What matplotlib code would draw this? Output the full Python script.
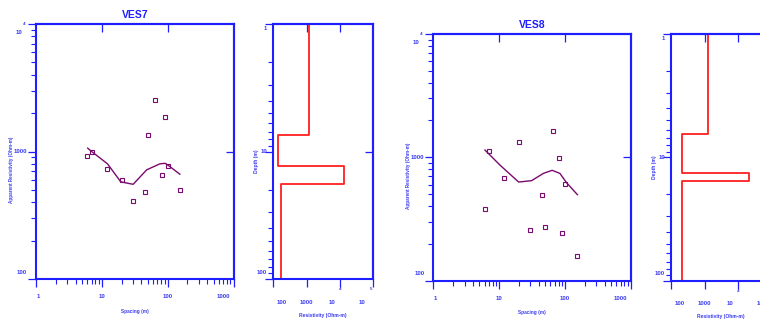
import numpy as np
import matplotlib
matplotlib.use("Agg")
import matplotlib.pyplot as plt
from matplotlib.ticker import NullLocator, NullFormatter, LogLocator

plt.rcParams['font.family'] = ['Liberation Sans Narrow', 'Liberation Sans', 'DejaVu Sans']

# VES7 field data and fitted curve
ves7_ab = [6.0, 7.0, 12, 20, 30, 45, 50, 65, 81, 90, 100, 152]
ves7_rho = [918, 1000, 731, 599, 412, 482, 1343, 2547, 652, 1850, 771, 500]
ves7_fit_ab = [6.1, 7.0, 12.2, 19.4, 29.9, 48, 76, 92, 108, 153]
ves7_fit_rho = [1062, 1000, 800, 578, 553, 718, 800, 808, 762, 664]
ves7_layer_rho = [1150, 135, 13200, 166]
ves7_layer_top = [7.4, 12.9, 18.0]

# VES8 field data and fitted curve
ves8_ab = [6.0, 7.0, 12, 20, 30, 45, 50, 66, 81, 91, 101, 155]
ves8_rho = [383, 1125, 680, 1340, 259, 495, 272, 1644, 988, 245, 608, 158]
ves8_fit_ab = [6.1, 10.3, 19.8, 31.2, 47, 64, 84, 106, 155]
ves8_fit_rho = [1146, 866, 631, 647, 741, 785, 741, 623, 498]
ves8_layer_rho = [1275, 215, 21500, 215]
ves8_layer_top = [6.5, 13.4, 15.5]

blue = '#1e1eff'
tblue = '#3c3cf0'
purple = '#7a0a6e'
red = '#ff2020'

W, H = 760, 320
fig = plt.figure(figsize=(W / 100, H / 100), dpi=100)


def rect(l, r, t, b):
    return [l / W, (H - b) / H, (r - l) / W, (b - t) / H]


def ftext(x, y, s, **kw):
    kw.setdefault('color', tblue)
    kw.setdefault('ha', 'center')
    kw.setdefault('va', 'center')
    fig.text(x / W, (H - y) / H, s, **kw)


def frame(ax, top_ticks, right_ticks):
    for sp in ax.spines.values():
        sp.set_color(blue)
        sp.set_linewidth(1.5)
    ax.tick_params(which='major', direction='out', length=6, width=0.9, color=blue)
    ax.tick_params(which='minor', direction='out', length=3.5, width=0.8, color=blue)
    ax.xaxis.set_minor_locator(LogLocator(base=10, subs=np.arange(2, 10)))
    ax.yaxis.set_minor_locator(LogLocator(base=10, subs=np.arange(2, 10)))
    ax.xaxis.set_minor_formatter(NullFormatter())
    ax.yaxis.set_minor_formatter(NullFormatter())
    ax.set_yticklabels([])
    ax.set_xticklabels([])
    sx = ax.secondary_xaxis('top')
    sx.set_xticks(top_ticks)
    sx.xaxis.set_minor_locator(NullLocator())
    sx.tick_params(direction='in', length=6, width=0.9, color=blue, labeltop=False)
    sx.spines['top'].set_color(blue)
    sx.spines['top'].set_linewidth(1.5)
    sy = ax.secondary_yaxis('right')
    sy.set_yticks(right_ticks)
    sy.yaxis.set_minor_locator(NullLocator())
    sy.tick_params(direction='in', length=6, width=0.9, color=blue, labelright=False)
    sy.spines['right'].set_color(blue)
    sy.spines['right'].set_linewidth(1.5)


def sounding(l, r, t, b, title, ab, rho, fit_ab, fit_rho):
    ax = fig.add_axes(rect(l, r, t, b))
    ax.set_xscale('log')
    ax.set_yscale('log')
    ax.set_xlim(1, 1000)
    ax.set_ylim(100, 10000)
    ax.set_xticks([1, 10, 100, 1000])
    ax.set_yticks([100, 1000, 10000])
    frame(ax, [10, 100], [1000])
    ax.plot(fit_ab, fit_rho, color=purple, lw=1.0)
    ax.plot(ab, rho, 's', mfc='none', mec=purple, ms=3, mew=0.8, ls='none')
    lab = dict(color=tblue, fontsize=4.4, fontweight='bold')
    for v, s, dx in [(1, '1', 2), (10, '10', 0), (100, '100', 0), (1000, '1000', -10)]:
        ftext(l + (r - l) * np.log10(v) / 3 + dx, b + 18, s, **lab)
    ftext(l - 9, b - 7, '100', ha='right', **lab)
    ftext(l - 9, (t + b) / 2, '1000', ha='right', **lab)
    ftext(l - 14, t + 8, '10', ha='right', **lab)
    ftext(l - 13, t, '4', ha='left', color=tblue, fontsize=3.2, fontweight='bold')
    ftext(l - 24.5, (t + b) / 2 + 18, 'Apparent Resistivity (Ohm-m)', rotation=90,
          fontsize=3.3, fontweight='bold')
    ftext((l + r) / 2, b + 32, 'Spacing (m)', fontsize=3.4, fontweight='bold')
    ftext((l + r) / 2, t - 9, title, fontsize=7.5, fontweight='bold', color=blue)
    return ax


def model(l, r, t, b, layer_rho, layer_top):
    ax = fig.add_axes(rect(l, r, t, b))
    ax.set_xscale('log')
    ax.set_yscale('log')
    ax.set_xlim(100, 1e5)
    ax.set_ylim(100, 1)
    ax.set_xticks([100, 1000, 1e4, 1e5])
    ax.set_yticks([1, 10, 100])
    frame(ax, [1000, 1e4], [10])
    tops = [1] + list(layer_top)
    bots = list(layer_top) + [100]
    xs, ys = [], []
    for rr, d0, d1 in zip(layer_rho, tops, bots):
        xs += [rr, rr]
        ys += [d0, d1]
    ax.plot(xs, ys, color=red, lw=1.3)
    lab = dict(color=tblue, fontsize=4.3, fontweight='bold')
    dec = (r - l) / 3
    ftext(l + 8, b + 23, '100', **lab)
    ftext(l + dec, b + 23, '1000', **lab)
    ftext(l + 2 * dec - 8, b + 23, '10', **lab)
    ftext(l + 2 * dec, b + 10, '4', color=tblue, fontsize=3.2, fontweight='bold')
    ftext(l + 3 * dec - 11, b + 23, '10', **lab)
    ftext(l + 3 * dec - 2, b + 10, '5', color=tblue, fontsize=3.2, fontweight='bold')
    ftext(l - 6, t + 4, '1', ha='right', **lab)
    ftext(l - 6, (t + b) / 2, '10', ha='right', **lab)
    ftext(l - 7, b - 7, '100', ha='right', **lab)
    ftext(l - 17, (t + b) / 2 + 10, 'Depth (m)', rotation=90, fontsize=3.6, fontweight='bold')
    ftext(l + 50, b + 36, 'Resistivity (Ohm-m)', fontsize=3.6, fontweight='bold')
    return ax


sounding(36, 233.5, 24, 279, 'VES7', ves7_ab, ves7_rho, ves7_fit_ab, ves7_fit_rho)
model(273.3, 373.3, 24, 279, ves7_layer_rho, ves7_layer_top)
sounding(433.3, 630.7, 34, 280.7, 'VES8', ves8_ab, ves8_rho, ves8_fit_ab, ves8_fit_rho)
model(671.3, 771, 34, 280.7, ves8_layer_rho, ves8_layer_top)

fig.savefig('out.png', dpi=100)
